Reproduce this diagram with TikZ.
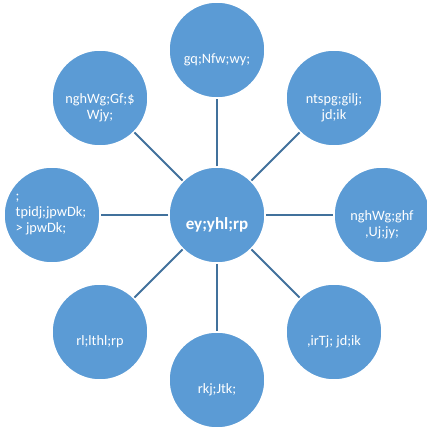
\documentclass[tikz,border=0pt]{standalone}
\usepackage{fontspec}
\setmainfont{Carlito}
\definecolor{bub}{HTML}{5B9BD5}
\definecolor{lnk}{HTML}{41719C}
\tikzset{
  bubble/.style={circle, fill=bub, draw=white, line width=1.5pt, minimum size=96pt, inner sep=0pt},
  btext/.style={text=white, font=\fontsize{14.3}{16}\selectfont, align=center, inner sep=0pt},
  ctext/.style={text=white, font=\fontsize{17}{20}\selectfont\bfseries, align=center, inner sep=0pt},
  conn/.style={draw=lnk, line width=2pt}
}
\begin{document}
\begin{tikzpicture}[x=1pt,y=-1pt]
\useasboundingbox (0,0) rectangle (427,431);
\node[bubble] (c) at (217,215) {};
\node[bubble] (n) at (217,50) {};
\node[bubble] (ne) at (334,98) {};
\node[bubble] (e) at (382,215) {};
\node[bubble] (se) at (334,332) {};
\node[bubble] (s) at (217,380) {};
\node[bubble] (sw) at (100,332) {};
\node[bubble] (w) at (52,215) {};
\node[bubble] (nw) at (100,98) {};
\foreach \o in {n,ne,e,se,s,sw,w,nw} \draw[conn] (c) -- (\o);
\node[ctext] (tc) at ([yshift=-10pt]c.center) {ey;yhl;rp};
\node[btext] (tn) at ([yshift=-10pt]n.center) {gq;Nfw;wy;};
\node[btext] (tne) at ([yshift=-10pt]ne.center) {ntspg;gilj;\\jd;ik};
\node[btext] (tne2) at ([yshift=-10pt]e.center) {nghWg;ghf\\,Uj;jy;};
\node[btext] (tse) at ([yshift=-10pt]se.center) {,irTj; jd;ik};
\node[btext] (ts) at ([yshift=-10pt]s.center) {rkj;Jtk;};
\node[btext] (tsw) at ([yshift=-10pt]sw.center) {rl;lthl;rp};
\node[btext, align=left] (tw) at ([xshift=-1pt]w.center) {;\\tpidj;jpwDk;\\> jpwDk;};
\node[btext] (tnw) at ([yshift=-10pt]nw.center) {nghWg;Gf;\$\\Wjy;};
\end{tikzpicture}
\end{document}
